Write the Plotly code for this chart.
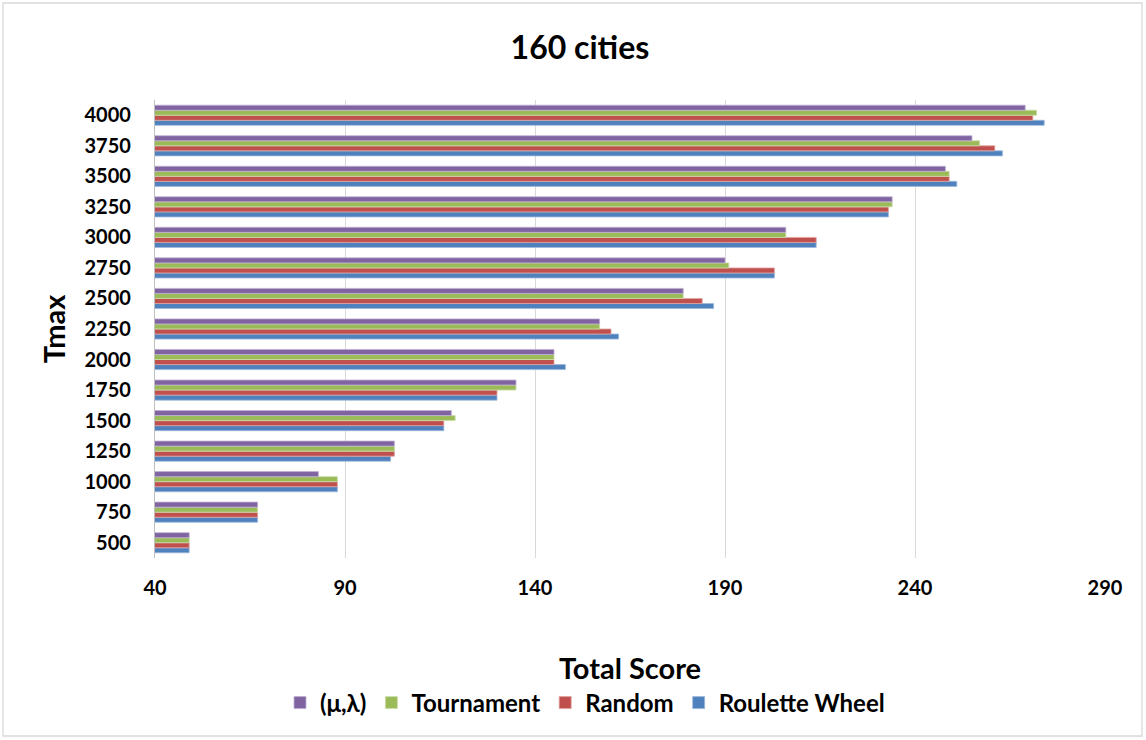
import plotly.graph_objects as go

# Tmax values (y categories) and total scores for each selection scheme
tmax = ["500", "750", "1000", "1250", "1500", "1750", "2000", "2250",
        "2500", "2750", "3000", "3250", "3500", "3750", "4000"]

mu_lambda = [49, 67, 83, 103, 118, 135, 145, 157, 179, 190, 206, 234, 248, 255, 269]
tournament = [49, 67, 88, 103, 119, 135, 145, 157, 179, 191, 206, 234, 249, 257, 272]
random_sel = [49, 67, 88, 103, 116, 130, 145, 160, 184, 203, 214, 233, 249, 261, 271]
roulette = [49, 67, 88, 102, 116, 130, 148, 162, 187, 203, 214, 233, 251, 263, 274]

x_ticks = [40, 90, 140, 190, 240, 290]

# bottom-to-top order inside each group: Roulette, Random, Tournament, (μ,λ)
series = [
    ("Roulette Wheel", roulette, "#4F81BD", "#9DB8DC"),
    ("Random", random_sel, "#C0504D", "#E0A3A1"),
    ("Tournament", tournament, "#9BBB59", "#CCDDAA"),
    ("(μ,λ)", mu_lambda, "#8064A2", "#BFB0D2"),
]

fig = go.Figure()
for name, vals, col, edge in series:
    fig.add_trace(go.Bar(
        y=tmax, x=vals, name=name, orientation="h",
        marker=dict(color=col, line=dict(color=edge, width=0.8)),
    ))

W, H = 1146, 740
ml, mr, mt, mb = 155, 41, 100, 182
pw, ph = W - ml - mr, H - mt - mb

font = "Lato, 'Open Sans', sans-serif"

fig.update_layout(
    width=W, height=H,
    margin=dict(l=ml, r=mr, t=mt, b=mb),
    paper_bgcolor="white", plot_bgcolor="white",
    barmode="group", bargap=0.34, bargroupgap=0,
    font=dict(family=font, color="#000000"),
    title=dict(text="<b>160 cities</b>", x=580 / W, xanchor="center",
               y=1 - 48 / H, yanchor="middle",
               font=dict(size=32, family=font, color="#000000")),
    xaxis=dict(
        range=[40, 290], tickvals=x_ticks, ticktext=[str(v) for v in x_ticks],
        showgrid=True, gridcolor="#D9D9D9", gridwidth=1.3,
        zeroline=False, showline=False, ticks="",
        tickfont=dict(size=20, family=font, color="#000000", weight="bold"),
        ticklabelstandoff=16,
        title=dict(text="<b>Total Score</b>", standoff=60,
                   font=dict(size=29, family=font, color="#000000")),
    ),
    yaxis=dict(
        type="category", categoryorder="array", categoryarray=tmax,
        showgrid=False, showline=True, linecolor="#BFBFBF", linewidth=1.3,
        ticks="", ticklabelstandoff=19,
        tickfont=dict(size=20, family=font, color="#000000", weight="bold"),
        title=dict(text="<b>Tmax</b>", standoff=10,
                   font=dict(size=29, family=font, color="#000000")),
    ),
    legend=dict(
        orientation="h", traceorder="reversed",
        x=(585 - ml) / pw, xanchor="center",
        y=(ph - (703 - mt)) / ph, yanchor="middle",
        font=dict(size=24, family=font, color="#000000", weight="bold"),
        itemwidth=30, tracegroupgap=0,
    ),
    shapes=[dict(
        type="rect", xref="paper", yref="paper",
        x0=(3 - ml) / pw, x1=(W - 4 - ml) / pw,
        y0=(ph - (H - 4 - mt)) / ph, y1=(ph - (3 - mt)) / ph,
        line=dict(color="#D9D9D9", width=1.3), fillcolor="rgba(0,0,0,0)",
        layer="below",
    )],
)

fig.write_html("out.html")
